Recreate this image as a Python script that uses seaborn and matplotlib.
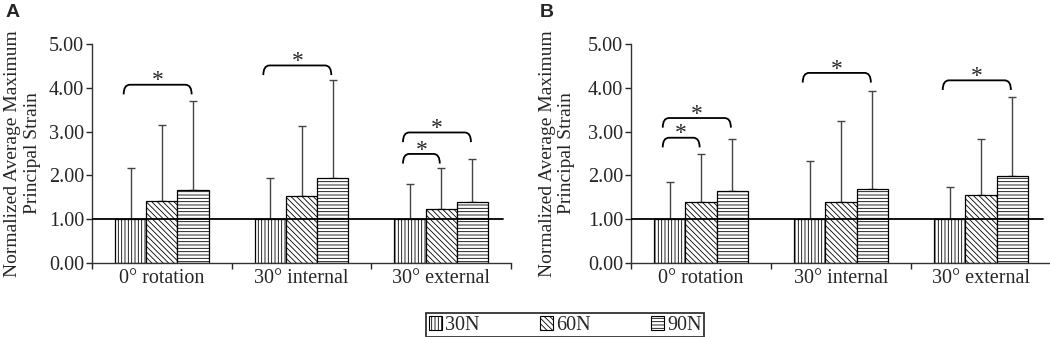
import numpy as np
import pandas as pd
import seaborn as sns
import matplotlib.pyplot as plt
from matplotlib.path import Path
from matplotlib.patches import PathPatch, Patch

conditions = ["0\u00b0 rotation", "30\u00b0 internal", "30\u00b0 external"]
loads = ["30N", "60N", "90N"]
hatches = ["|||||", "\\\\\\\\\\\\", "-----"]

# panel A: means and upper error (SD) per load, one value per condition
mean_a = {"30N": [1.00, 1.00, 1.00], "60N": [1.41, 1.53, 1.24], "90N": [1.66, 1.93, 1.39]}
sd_a = {"30N": [1.16, 0.93, 0.80], "60N": [1.73, 1.60, 0.94], "90N": [2.04, 2.25, 0.99]}
# panel B
mean_b = {"30N": [1.00, 1.00, 1.00], "60N": [1.40, 1.40, 1.55], "90N": [1.64, 1.70, 1.98]}
sd_b = {"30N": [0.86, 1.34, 0.74], "60N": [1.10, 1.84, 1.28], "90N": [1.20, 2.22, 1.82]}

# significance brackets: (condition index, from load, to load, height)
sig_a = [(0, 0, 2, 4.07), (1, 0, 2, 4.51), (2, 0, 2, 2.98), (2, 0, 1, 2.49)]
sig_b = [(0, 0, 2, 3.31), (0, 0, 1, 2.86), (1, 0, 2, 4.34), (2, 0, 2, 4.17)]

sns.set_style("white")
plt.rcParams['font.family'] = ['Liberation Serif', 'DejaVu Serif']
plt.rcParams['hatch.linewidth'] = 0.6
plt.rcParams['hatch.color'] = '#222222'

fig = plt.figure(figsize=(10.5, 3.37), dpi=100)
ax_a = fig.add_axes([92 / 1050, 1 - 263 / 337, 419 / 1050, 219 / 337])
ax_b = fig.add_axes([631 / 1050, 1 - 263 / 337, 420 / 1050, 219 / 337])


def bracket(ax, x1, x2, y, h=0.22, r=0.045):
    verts = [(x1, y - h), (x1, y), (x1 + r, y), (x2 - r, y), (x2, y), (x2, y - h)]
    codes = [Path.MOVETO, Path.CURVE3, Path.CURVE3, Path.LINETO, Path.CURVE3, Path.CURVE3]
    ax.add_patch(PathPatch(Path(verts, codes), fill=False, lw=1.3, ec='black', zorder=5))
    ax.text((x1 + x2) / 2, y - 0.04, "*", ha='center', va='baseline', fontsize=17)


def panel(ax, means, sds, sigs, letter, label_x):
    rows = []
    for ld in loads:
        for c, m in zip(conditions, means[ld]):
            rows.append({"condition": c, "load": ld, "mean": m})
    df = pd.DataFrame(rows)
    sns.barplot(data=df, x="condition", y="mean", hue="load", order=conditions,
                hue_order=loads, palette={l: "white" for l in loads},
                errorbar=None, width=0.67, edgecolor="black", linewidth=0.9,
                legend=False, ax=ax, zorder=2)
    centers = []
    for i, ld in enumerate(loads):
        cont = ax.containers[i]
        xs = [p.get_x() + p.get_width() / 2 for p in cont]
        centers.append(xs)
        for p in cont:
            p.set_hatch(hatches[i])
        ax.errorbar(xs, means[ld], yerr=[np.zeros(3), sds[ld]], fmt='none',
                    ecolor='#444444', elinewidth=1.0, capsize=2.6, capthick=1.0, zorder=1)
    ax.axhline(1.0, xmin=0, xmax=0.98, color='black', lw=1.3, zorder=4)
    for g, i, j, y in sigs:
        bracket(ax, centers[i][g] - 0.05, centers[j][g] - 0.01, y)

    ax.set_xlim(-0.5, 2.5)
    ax.set_ylim(0, 5)
    ax.set_yticks(np.arange(0, 6, 1))
    ax.set_yticklabels([f"{v:.2f}" for v in np.arange(0, 6, 1)], fontsize=14.5)
    ax.set_xticks([-0.5, 0.5, 1.5, 2.5])
    ax.set_xticklabels([])
    ax.set_xticks([0, 1, 2], minor=True)
    ax.set_xticklabels(conditions, minor=True, fontsize=14.5)
    ax.tick_params(axis='x', which='major', direction='out', length=4, width=1, bottom=True)
    ax.tick_params(axis='x', which='minor', length=0, pad=4)
    ax.tick_params(axis='y', direction='out', length=4, width=1, left=True, pad=1.5)
    for s in ["top", "right"]:
        ax.spines[s].set_visible(False)
    for s in ["left", "bottom"]:
        ax.spines[s].set_color('#333333')
        ax.spines[s].set_linewidth(1.0)
    ax.set_xlabel(None)
    ax.set_ylabel("Normalized Average Maximum\nPrincipal Strain", fontsize=14, linespacing=1.2)
    ax.yaxis.set_label_coords(label_x, 0.5)
    ax.text(label_x - 0.085, 1.145, letter, transform=ax.transAxes, fontsize=14,
            fontweight='bold', family='Liberation Sans', va='center', ha='left')


panel(ax_a, mean_a, sd_a, sig_a, "A", -0.122)
panel(ax_b, mean_b, sd_b, sig_b, "B", -0.133)

handles = [Patch(facecolor='white', edgecolor='black', hatch=h, lw=0.8) for h in hatches]
leg = fig.legend(handles, loads, loc='center', bbox_to_anchor=(565 / 1050, 0.035), ncol=3,
                 frameon=True, fancybox=False, edgecolor='black', handlelength=0.65,
                 handleheight=0.7, handletextpad=0.15, columnspacing=3.0, borderpad=0.12,
                 fontsize=14.5)
leg.get_frame().set_linewidth(1.3)

plt.savefig("out.png", dpi=100)
